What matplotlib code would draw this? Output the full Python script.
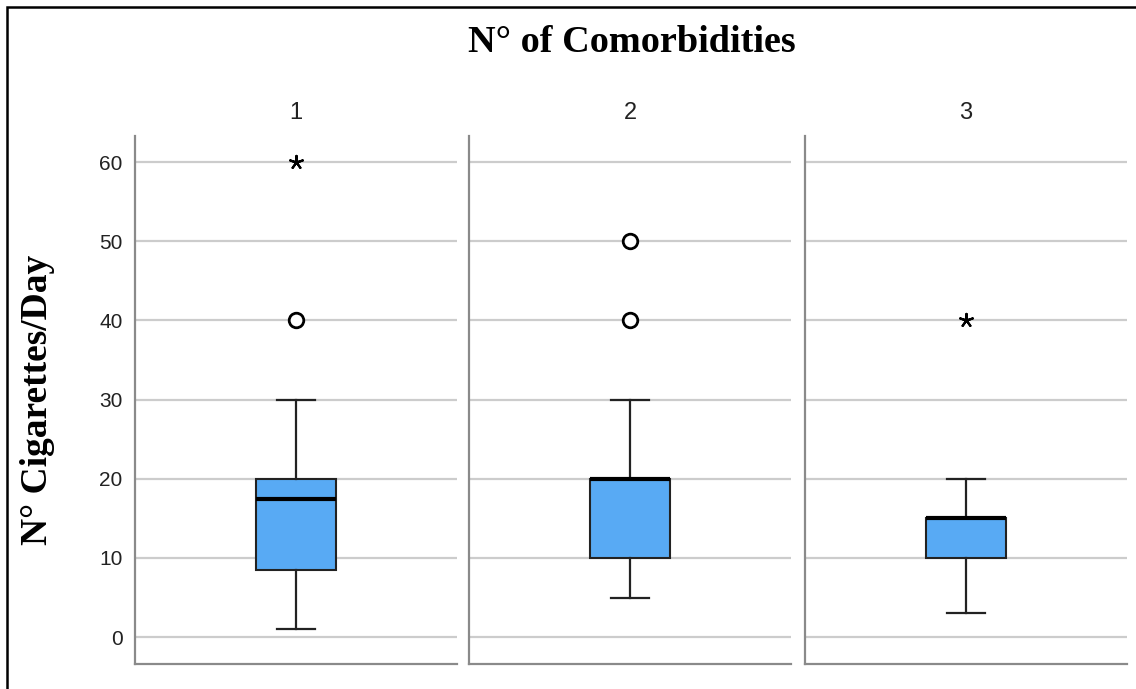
import matplotlib
matplotlib.use('Agg')
import matplotlib.pyplot as plt
from matplotlib.patches import Rectangle

# 每组合并症数量的箱线图数据
groups = ['1', '2', '3']
q1s = [8.5, 10, 10]
medians = [17.5, 20, 15]
q3s = [20, 20, 15]
whislo = [1, 5, 3]
whishi = [30, 30, 20]
outliers = [[40], [40, 50], []]      # 圆圈
extremes = [[60], [], [40]]          # 星号
yticks = [0, 10, 20, 30, 40, 50, 60]

W, H = 1136, 689
fig = plt.figure(figsize=(W / 100, H / 100), dpi=100)

box_color = '#58aaf4'
spine_color = '#8a8a8a'
grid_color = '#cccccc'

lefts = [135, 469, 805]
pw = 322
top, bottom = 136, 664

for i, g in enumerate(groups):
    ax = fig.add_axes([lefts[i] / W, 1 - bottom / H, pw / W, (bottom - top) / H])
    stats = [{
        'med': medians[i], 'q1': q1s[i], 'q3': q3s[i],
        'whislo': whislo[i], 'whishi': whishi[i], 'fliers': [],
    }]
    ax.bxp(stats, positions=[1], widths=0.5, patch_artist=True,
           boxprops=dict(facecolor=box_color, edgecolor='#222222', linewidth=1.5),
           medianprops=dict(color='black', linewidth=3),
           whiskerprops=dict(color='#222222', linewidth=1.6),
           capprops=dict(color='#222222', linewidth=1.6),
           capwidths=0.24, showfliers=False, zorder=3)
    if outliers[i]:
        ax.scatter([1] * len(outliers[i]), outliers[i], s=110, facecolors='white',
                   edgecolors='black', linewidths=2, zorder=4)
    if extremes[i]:
        ax.scatter([1] * len(extremes[i]), extremes[i], marker=(5, 2, 0), s=90,
                   color='black', linewidths=1.6, zorder=4)

    ax.set_xlim(0, 2)
    ax.set_ylim(-3.4, 63.3)
    ax.set_yticks(yticks)
    ax.set_xticks([])
    for y in yticks:
        ax.axhline(y, color=grid_color, linewidth=1.6, zorder=1)
    for s in ['top', 'right']:
        ax.spines[s].set_visible(False)
    ax.spines['left'].set_color(spine_color)
    ax.spines['bottom'].set_color(spine_color)
    ax.spines['left'].set_linewidth(1.6)
    ax.spines['bottom'].set_linewidth(1.6)
    ax.tick_params(axis='y', length=0, pad=9, labelsize=15, labelcolor='#222222')
    if i > 0:
        ax.set_yticklabels([])
    for lab in ax.get_yticklabels():
        lab.set_fontfamily('Liberation Sans')
    ax.set_title(g, fontsize=17, fontfamily='Liberation Sans', color='#222222', pad=12)

fig.text(632 / W, 1 - 42 / H, 'N° of Comorbidities', ha='center', va='center',
         fontsize=27.5, fontweight='bold', fontfamily='Liberation Serif')
fig.text(38 / W, 1 - 400 / H, 'N° Cigarettes/Day', ha='center', va='center',
         rotation=90, fontsize=27, fontweight='bold', fontfamily='Liberation Serif')

# 外框
fig.patches.append(Rectangle((7 / W, -0.1), 1.2, 1 - 7 / H + 0.1, transform=fig.transFigure,
                             fill=False, edgecolor='black', linewidth=1.8))

fig.savefig('out.png', dpi=100)
